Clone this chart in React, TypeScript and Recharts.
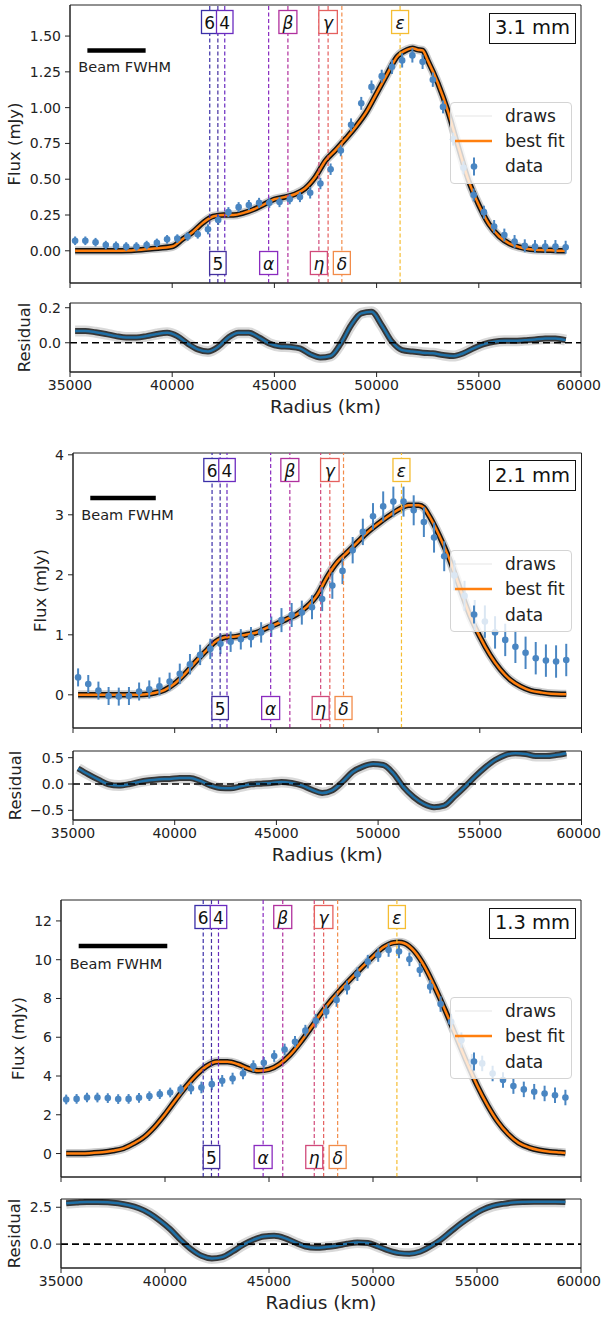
import React from 'react';
import {
  ComposedChart, Line, Scatter, ErrorBar, XAxis, YAxis,
  ReferenceLine, ReferenceArea, Legend,
} from 'recharts';

const FONT = '"DejaVu Sans", Verdana, sans-serif';
const BLUE = '#4a86c2';
const RES_BLUE = '#1f6fa5';
const ORANGE = '#ff7f0e';
const INK = '#222';

// ---------- shared categories ----------
const RADIUS_KM = [
  35250, 35750, 36250, 36750, 37250, 37750, 38250, 38750, 39250, 39750,
  40250, 40750, 41250, 41750, 42250, 42750, 43250, 43750, 44250, 44750,
  45250, 45750, 46250, 46750, 47250, 47750, 48250, 48750, 49250, 49750,
  50250, 50750, 51250, 51750, 52250, 52750, 53250, 53750, 54250, 54750,
  55250, 55750, 56250, 56750, 57250, 57750, 58250, 58750, 59250,
];
const X_TICKS = [35000, 40000, 45000, 50000, 55000, 60000];

const RING_NAMES = ['6', '5', '4', 'α', 'β', 'η', 'γ', 'δ', 'ε'];
const RING_KM = [41837, 42234, 42571, 44718, 45661, 47176, 47627, 48300, 51149];

// ---------- 3.1 mm ----------
const FLUX_31 = [
  0.07, 0.07, 0.06, 0.04, 0.035, 0.03, 0.03, 0.04, 0.055, 0.08,
  0.085, 0.10, 0.115, 0.15, 0.215, 0.27, 0.305, 0.32, 0.335, 0.335,
  0.34, 0.36, 0.375, 0.405, 0.47, 0.57, 0.70, 0.88, 1.03, 1.145,
  1.22, 1.285, 1.33, 1.365, 1.32, 1.195, 1.005, 0.78, 0.58, 0.39,
  0.27, 0.17, 0.11, 0.065, 0.035, 0.03, 0.03, 0.03, 0.025,
];
const ERR_31 = [
  0.03, 0.03, 0.03, 0.03, 0.03, 0.03, 0.03, 0.03, 0.03, 0.03,
  0.03, 0.03, 0.03, 0.035, 0.035, 0.035, 0.035, 0.035, 0.035, 0.035,
  0.035, 0.035, 0.035, 0.04, 0.04, 0.04, 0.04, 0.045, 0.045, 0.045,
  0.045, 0.05, 0.05, 0.05, 0.05, 0.05, 0.045, 0.045, 0.045, 0.045,
  0.045, 0.045, 0.045, 0.045, 0.045, 0.045, 0.045, 0.045, 0.045,
];
const FIT_X_31 = [
  35250, 36000, 37000, 38000, 39000, 40000, 40500, 41000, 41500, 42000,
  42500, 43000, 43500, 44000, 44500, 45000, 45500, 46000, 46500, 47000,
  47500, 48000, 48500, 49000, 49500, 50000, 50500, 51000, 51500, 51750,
  52000, 52250, 52500, 53000, 53500, 54000, 54500, 55000, 55500, 56000,
  56500, 57000, 57500, 58000, 58500, 59000, 59250,
];
const FIT_31 = [
  0, 0, 0, 0.002, 0.015, 0.03, 0.08, 0.13, 0.195, 0.24,
  0.25, 0.25, 0.265, 0.29, 0.325, 0.36, 0.375, 0.395, 0.435, 0.515,
  0.63, 0.705, 0.785, 0.87, 0.97, 1.10, 1.23, 1.355, 1.405, 1.415,
  1.405, 1.40, 1.33, 1.17, 0.97, 0.725, 0.49, 0.32, 0.185, 0.10,
  0.05, 0.025, 0.01, 0.005, 0.003, 0, 0,
];
const RES_31 = [
  0.067, 0.067, 0.06, 0.05, 0.038, 0.03, 0.03, 0.038, 0.05, 0.057,
  0.038, -0.004, -0.038, -0.05, -0.023, 0.03, 0.057, 0.057, 0.03, -0.004,
  -0.02, -0.023, -0.032, -0.065, -0.084, -0.076, -0.004, 0.10, 0.168, 0.177,
  0.10, 0.006, -0.042, -0.05, -0.057, -0.06, -0.07, -0.076, -0.06, -0.032,
  -0.008, 0.006, 0.011, 0.011, 0.015, 0.019, 0.025, 0.025, 0.015,
];

// ---------- 2.1 mm ----------
const FLUX_21 = [
  0.29, 0.18, 0.07, -0.02, -0.03, -0.02, 0.055, 0.09, 0.14, 0.22,
  0.35, 0.51, 0.665, 0.765, 0.85, 0.885, 0.925, 0.96, 1.04, 1.135,
  1.245, 1.33, 1.37, 1.46, 1.595, 1.82, 2.065, 2.41, 2.715, 2.975,
  3.14, 3.22, 3.22, 3.075, 2.88, 2.62, 2.31, 1.99, 1.65, 1.33,
  1.22, 1.04, 0.915, 0.80, 0.70, 0.61, 0.57, 0.555, 0.58,
];
const ERR_21 = [
  0.15, 0.15, 0.15, 0.15, 0.15, 0.15, 0.15, 0.15, 0.15, 0.15,
  0.17, 0.17, 0.17, 0.17, 0.17, 0.17, 0.17, 0.17, 0.17, 0.17,
  0.2, 0.2, 0.2, 0.2, 0.2, 0.22, 0.22, 0.22, 0.22, 0.22,
  0.25, 0.25, 0.25, 0.25, 0.25, 0.25, 0.25, 0.25, 0.25, 0.25,
  0.27, 0.27, 0.27, 0.27, 0.27, 0.27, 0.27, 0.27, 0.27,
];
const FIT_X_21 = [
  35250, 36000, 37000, 38000, 38500, 39000, 39500, 40000, 40500, 41000,
  41500, 42000, 42500, 43000, 43500, 44000, 44500, 45000, 45500, 46000,
  46500, 47000, 47500, 48000, 48500, 49000, 49500, 50000, 50500, 51000,
  51500, 52000, 52250, 52500, 53000, 53500, 54000, 54500, 55000, 55500,
  56000, 56500, 57000, 57500, 58000, 58500, 59000, 59250,
];
const FIT_21 = [
  0, 0, 0, 0, 0.005, 0.03, 0.08, 0.19, 0.35, 0.54,
  0.72, 0.885, 0.96, 0.97, 1.0, 1.035, 1.11, 1.18, 1.26, 1.34,
  1.47, 1.66, 1.97, 2.215, 2.38, 2.55, 2.715, 2.85, 2.975, 3.085,
  3.16, 3.16, 3.12, 2.99, 2.66, 2.27, 1.80, 1.33, 0.97, 0.665,
  0.425, 0.25, 0.14, 0.07, 0.04, 0.017, 0.01, 0.01,
];
const RES_21 = [
  0.295, 0.185, 0.083, -0.006, -0.03, -0.006, 0.04, 0.07, 0.09, 0.096,
  0.115, 0.115, 0.058, -0.026, -0.077, -0.083, -0.045, -0.006, 0.006, 0.02,
  0.04, 0.02, -0.026, -0.11, -0.17, -0.12, 0.04, 0.23, 0.33, 0.38,
  0.36, 0.2, -0.06, -0.25, -0.38, -0.44, -0.41, -0.24, -0.06, 0.135,
  0.31, 0.455, 0.55, 0.585, 0.57, 0.53, 0.53, 0.55, 0.585,
];

// ---------- 1.3 mm ----------
const FLUX_13 = [
  2.79, 2.82, 2.89, 2.89, 2.86, 2.81, 2.82, 2.875, 2.96, 3.065,
  3.15, 3.31, 3.36, 3.41, 3.58, 3.75, 3.87, 4.13, 4.51, 4.68,
  5.03, 5.37, 5.77, 6.34, 6.85, 7.32, 7.92, 8.56, 9.25, 9.9,
  10.24, 10.5, 10.42, 10.02, 9.47, 8.61, 7.71, 6.8, 5.85, 4.73,
  4.65, 4.13, 3.79, 3.48, 3.31, 3.19, 3.1, 3.01, 2.89,
];
const ERR_13 = [
  0.25, 0.25, 0.25, 0.25, 0.25, 0.25, 0.25, 0.25, 0.25, 0.25,
  0.25, 0.25, 0.3, 0.3, 0.3, 0.3, 0.3, 0.3, 0.3, 0.3,
  0.3, 0.3, 0.3, 0.3, 0.35, 0.35, 0.35, 0.35, 0.35, 0.35,
  0.35, 0.35, 0.35, 0.35, 0.35, 0.35, 0.4, 0.4, 0.4, 0.4,
  0.4, 0.4, 0.4, 0.4, 0.4, 0.4, 0.4, 0.4, 0.4,
];
const FIT_X_13 = [
  35250, 36000, 36500, 37000, 37500, 38000, 38500, 39000, 39500, 40000,
  40500, 41000, 41500, 42000, 42500, 43000, 43500, 44000, 44500, 45000,
  45500, 46000, 46500, 47000, 47500, 48000, 48500, 49000, 49500, 50000,
  50500, 51000, 51250, 51500, 52000, 52500, 53000, 53500, 54000, 54500,
  55000, 55500, 56000, 56500, 57000, 57500, 58000, 58500, 59000, 59250,
];
const FIT_13 = [
  0, 0, 0.03, 0.07, 0.14, 0.26, 0.52, 0.86, 1.38, 2.03,
  2.75, 3.44, 4.05, 4.51, 4.73, 4.73, 4.61, 4.39, 4.27, 4.34,
  4.61, 5.08, 5.72, 6.46, 7.23, 7.92, 8.52, 9.09, 9.64, 10.16,
  10.64, 10.88, 10.9, 10.85, 10.42, 9.61, 8.52, 7.32, 6.03, 4.73,
  3.53, 2.5, 1.64, 1.0, 0.55, 0.31, 0.17, 0.09, 0.05, 0.03,
];
const RES_13 = [
  2.77, 2.82, 2.86, 2.86, 2.84, 2.77, 2.64, 2.43, 2.09, 1.6,
  1.01, 0.29, -0.34, -0.79, -0.97, -0.88, -0.5, -0.05, 0.29, 0.52,
  0.56, 0.41, 0.11, -0.16, -0.25, -0.2, -0.11, 0.02, 0.11, 0.07,
  -0.16, -0.43, -0.61, -0.65, -0.52, -0.16, 0.29, 0.86, 1.42, 1.91,
  2.32, 2.59, 2.73, 2.82, 2.86, 2.88, 2.88, 2.88, 2.86,
];

// ---------- styling (not data) ----------
const RING_STYLE: Record<string, { color: string; where: 'top' | 'bottom'; w: number; italic: boolean }> = {
  '6': { color: '#3b2fa8', where: 'top', w: 16.5, italic: false },
  '5': { color: '#44309f', where: 'bottom', w: 16.5, italic: false },
  '4': { color: '#6a2bc0', where: 'top', w: 16.5, italic: false },
  'α': { color: '#8a2bbf', where: 'bottom', w: 18, italic: true },
  'β': { color: '#b0309e', where: 'top', w: 18, italic: true },
  'η': { color: '#d14a7a', where: 'bottom', w: 17, italic: true },
  'γ': { color: '#e5605e', where: 'top', w: 18.5, italic: true },
  'δ': { color: '#f28c4a', where: 'bottom', w: 17, italic: true },
  'ε': { color: '#f5bd32', where: 'top', w: 17, italic: true },
};

const fmt2 = (v: number) => v.toFixed(2);
const fmt0 = (v: number) => String(v);
const fmt1 = (v: number) => (v < 0 ? '\u2212' + Math.abs(v).toFixed(1) : v.toFixed(1));

type Panel = {
  tag: string;
  flux: number[]; err: number[]; fitX: number[]; fit: number[]; res: number[];
  plotLeft: number; plotRight: number;
  main: { top: number; plotTop: number; plotBottom: number; domain: [number, number]; ticks: number[]; fmt: (v: number) => string; labelX: number };
  resid: { top: number; plotTop: number; plotBottom: number; domain: [number, number]; ticks: number[]; fmt: (v: number) => string; labelX: number };
  beam: { x1: number; x2: number; y: number; gap: number };
  badgeTop: number;
  legendTop: number;
};

const PANELS: Panel[] = [
  {
    tag: '3.1 mm', flux: FLUX_31, err: ERR_31, fitX: FIT_X_31, fit: FIT_31, res: RES_31,
    plotLeft: 70, plotRight: 581,
    main: { top: 0, plotTop: 5, plotBottom: 283, domain: [-0.225, 1.717], ticks: [0, 0.25, 0.5, 0.75, 1, 1.25, 1.5], fmt: fmt2, labelX: 14 },
    resid: { top: 295, plotTop: 303, plotBottom: 372, domain: [-0.167, 0.227], ticks: [0, 0.2], fmt: fmt1, labelX: 24 },
    beam: { x1: 35850, x2: 38700, y: 1.40, gap: 17 },
    badgeTop: 12.5, legendTop: 101.7,
  },
  {
    tag: '2.1 mm', flux: FLUX_21, err: ERR_21, fitX: FIT_X_21, fit: FIT_21, res: RES_21,
    plotLeft: 73, plotRight: 581.5,
    main: { top: 440, plotTop: 453, plotBottom: 728, domain: [-0.553, 4.03], ticks: [0, 1, 2, 3, 4], fmt: fmt0, labelX: 40 },
    resid: { top: 740, plotTop: 751, plotBottom: 820, domain: [-0.684, 0.627], ticks: [-0.5, 0, 0.5], fmt: fmt1, labelX: 15 },
    beam: { x1: 35850, x2: 39070, y: 3.28, gap: 17 },
    badgeTop: 460, legendTop: 550,
  },
  {
    tag: '1.3 mm', flux: FLUX_13, err: ERR_13, fitX: FIT_X_13, fit: FIT_13, res: RES_13,
    plotLeft: 61, plotRight: 581,
    main: { top: 880, plotTop: 900, plotBottom: 1177, domain: [-1.21, 13.08], ticks: [0, 2, 4, 6, 8, 10, 12], fmt: fmt0, labelX: 18.5 },
    resid: { top: 1189, plotTop: 1199, plotBottom: 1268, domain: [-1.62, 3.06], ticks: [0, 2.5], fmt: fmt1, labelX: 14.6 },
    beam: { x1: 35850, x2: 40110, y: 10.71, gap: 18 },
    badgeTop: 907.7, legendTop: 997.3,
  },
];

const tickStyle = { fontFamily: FONT, fontSize: 14, fill: INK };

// x tick label kept inside the 602px page
function XTick(props: any) {
  const { x, y, payload } = props;
  const label = String(payload.value);
  const half = label.length * 0.636 * 14 / 2;
  const cx = Math.min(x, 601 - half);
  return (
    <text x={cx} y={y} dy="0.71em" textAnchor="middle" fontFamily={FONT} fontSize={14} fill={INK}>{label}</text>
  );
}

function ringLabel(name: string) {
  const s = RING_STYLE[name];
  return (props: any) => {
    const vb = props.viewBox || {};
    const x = vb.x;
    const cy = s.where === 'top' ? vb.y + 17 : vb.y + vb.height - 20;
    const h = 23;
    return (
      <g>
        <rect x={x - s.w / 2} y={cy - h / 2} width={s.w} height={h} fill="#fff" stroke={s.color} strokeWidth={1.3} />
        <text x={x} y={cy + 1} textAnchor="middle" dominantBaseline="central" fontFamily={FONT}
          fontSize={17} fontStyle={s.italic ? 'italic' : 'normal'} fill="#111">{name}</text>
      </g>
    );
  };
}

function LegendBox() {
  const rows = [14, 39, 64.5];
  return (
    <div style={{
      position: 'relative', width: 122, height: 82, boxSizing: 'border-box',
      background: 'rgba(255,255,255,0.8)', border: '1px solid #d4d4d4', borderRadius: 4,
      fontFamily: FONT, fontSize: 17, color: INK,
    }}>
      <svg width={122} height={82} style={{ position: 'absolute', left: -1, top: -1 }}>
        <line x1={5} x2={42} y1={rows[0]} y2={rows[0]} stroke="#000" strokeOpacity={0.07} strokeWidth={1.5} />
        <line x1={5} x2={42} y1={rows[1]} y2={rows[1]} stroke={ORANGE} strokeWidth={2.5} />
        <line x1={24} x2={24} y1={rows[2] - 9} y2={rows[2] + 9} stroke={BLUE} strokeWidth={2} />
        <circle cx={24} cy={rows[2]} r={3.3} fill={BLUE} />
      </svg>
      {['draws', 'best fit', 'data'].map((t, i) => (
        <div key={t} style={{ position: 'absolute', left: 54, top: rows[i] - 1, transform: 'translateY(-50%)', lineHeight: 1, whiteSpace: 'nowrap' }}>{t}</div>
      ))}
    </div>
  );
}

function MainChart({ p }: { p: Panel }) {
  const m = p.main;
  const xAxisH = 12;
  const height = m.plotBottom - m.top + xAxisH;
  const fitData = p.fitX.map((x, i) => ({ x, y: p.fit[i] }));
  const pts = RADIUS_KM.map((x, i) => ({ x, y: p.flux[i], err: p.err[i] }));
  const labelY = m.plotTop - m.top + (m.plotBottom - m.plotTop) / 2;
  return (
    <div style={{ position: 'absolute', left: 0, top: m.top }}>
      <ComposedChart width={602} height={height}
        margin={{ top: m.plotTop - m.top, right: 602 - p.plotRight, bottom: 0, left: 0 }}>
        <XAxis dataKey="x" type="number" domain={[35000, 60000]} allowDataOverflow ticks={X_TICKS}
          tickFormatter={() => ''} height={xAxisH} tickSize={5} stroke={INK} tick={tickStyle} />
        <YAxis type="number" domain={m.domain} allowDataOverflow ticks={m.ticks} tickFormatter={m.fmt}
          width={p.plotLeft} tickSize={5} tickMargin={4} stroke={INK} tick={tickStyle}
          label={() => (
            <text x={m.labelX} y={labelY} transform={`rotate(-90 ${m.labelX} ${labelY})`} textAnchor="middle"
              dominantBaseline="central" fontFamily={FONT} fontSize={16.5} fill={INK}>Flux (mJy)</text>
          )} />
        <ReferenceArea x1={35000} x2={60000} y1={m.domain[0]} y2={m.domain[1]} fill="none" stroke={INK} strokeWidth={1} ifOverflow="visible" />
        <Line data={fitData} dataKey="y" type="monotone" stroke="#000" strokeOpacity={0.2} strokeWidth={9} dot={false} activeDot={false} isAnimationActive={false} legendType="none" />
        <Line data={fitData} dataKey="y" type="monotone" stroke="#000" strokeOpacity={0.9} strokeWidth={5.5} dot={false} activeDot={false} isAnimationActive={false} legendType="none" />
        <Line data={fitData} dataKey="y" type="monotone" stroke={ORANGE} strokeWidth={2.5} dot={false} activeDot={false} isAnimationActive={false} legendType="none" />
        <Scatter data={pts} dataKey="y" isAnimationActive={false} legendType="none"
          shape={(sp: any) => <circle cx={sp.cx} cy={sp.cy} r={3.3} fill={BLUE} />}>
          <ErrorBar dataKey="err" direction="y" width={0} stroke={BLUE} strokeWidth={2} isAnimationActive={false} />
        </Scatter>
        {RING_NAMES.map((n, i) => (
          <ReferenceLine key={'l' + n} x={RING_KM[i]} stroke={RING_STYLE[n].color} strokeWidth={1.2} strokeDasharray="4 2.5" />
        ))}
        {RING_NAMES.map((n, i) => (
          <ReferenceLine key={'b' + n} x={RING_KM[i]} stroke="none" label={ringLabel(n)} />
        ))}
        <ReferenceLine segment={[{ x: p.beam.x1, y: p.beam.y }, { x: p.beam.x2, y: p.beam.y }]} stroke="#000" strokeWidth={4.5}
          label={(lp: any) => {
            const vb = lp.viewBox || {};
            return (
              <text x={vb.x - 9} y={vb.y + p.beam.gap} dominantBaseline="central" fontFamily={FONT} fontSize={14.5} fill={INK}>Beam FWHM</text>
            );
          }} />
        <Legend layout="vertical" align="center" verticalAlign="middle" content={() => <LegendBox />}
          wrapperStyle={{ left: 450, top: p.legendTop - m.top, width: 122, height: 82, margin: 0 }} />
      </ComposedChart>
    </div>
  );
}

function ResidChart({ p }: { p: Panel }) {
  const r = p.resid;
  const xAxisH = 45;
  const height = r.plotBottom - r.top + xAxisH;
  const resData = RADIUS_KM.map((x, i) => ({ x, y: p.res[i] }));
  const labelY = r.plotTop - r.top + (r.plotBottom - r.plotTop) / 2;
  const xLabelX = (p.plotLeft + p.plotRight) / 2;
  const xLabelY = r.plotBottom - r.top + 34;
  return (
    <div style={{ position: 'absolute', left: 0, top: r.top }}>
      <ComposedChart width={602} height={height}
        margin={{ top: r.plotTop - r.top, right: 602 - p.plotRight, bottom: 0, left: 0 }}>
        <XAxis dataKey="x" type="number" domain={[35000, 60000]} allowDataOverflow ticks={X_TICKS}
          height={xAxisH} tickSize={5} tickMargin={3} stroke={INK} tick={<XTick />}
          label={() => (
            <text x={xLabelX} y={xLabelY} textAnchor="middle" dominantBaseline="central" fontFamily={FONT} fontSize={18.5} fill={INK}>Radius (km)</text>
          )} />
        <YAxis type="number" domain={r.domain} allowDataOverflow ticks={r.ticks} tickFormatter={r.fmt}
          width={p.plotLeft} tickSize={5} tickMargin={4} stroke={INK} tick={tickStyle}
          label={() => (
            <text x={r.labelX} y={labelY} transform={`rotate(-90 ${r.labelX} ${labelY})`} textAnchor="middle"
              dominantBaseline="central" fontFamily={FONT} fontSize={16.5} fill={INK}>Residual</text>
          )} />
        <ReferenceArea x1={35000} x2={60000} y1={r.domain[0]} y2={r.domain[1]} fill="none" stroke={INK} strokeWidth={1} ifOverflow="visible" />
        <Line data={resData} dataKey="y" type="monotone" stroke="#000" strokeOpacity={0.15} strokeWidth={11} dot={false} activeDot={false} isAnimationActive={false} legendType="none" />
        <Line data={resData} dataKey="y" type="monotone" stroke="#000" strokeOpacity={0.75} strokeWidth={6} dot={false} activeDot={false} isAnimationActive={false} legendType="none" />
        <Line data={resData} dataKey="y" type="monotone" stroke={RES_BLUE} strokeWidth={2.5} dot={false} activeDot={false} isAnimationActive={false} legendType="none" />
        <ReferenceLine y={0} stroke="#000" strokeWidth={1.6} strokeDasharray="7 4" />
      </ComposedChart>
    </div>
  );
}

function Badge({ p }: { p: Panel }) {
  return (
    <div style={{
      position: 'absolute', left: 489, top: p.badgeTop, width: 87, height: 31, boxSizing: 'border-box',
      border: '1.3px solid #111', background: '#fff', fontFamily: FONT, fontSize: 19.5, color: '#111',
      display: 'flex', alignItems: 'center', justifyContent: 'center', lineHeight: 1,
    }}>{p.tag}</div>
  );
}

export default function App() {
  return (
    <div style={{ position: 'absolute', left: 0, top: 0, width: 602, height: 1317, background: '#fff', fontFamily: FONT, overflow: 'hidden' }}>
      {PANELS.map((p) => (
        <React.Fragment key={p.tag}>
          <MainChart p={p} />
          <ResidChart p={p} />
          <Badge p={p} />
        </React.Fragment>
      ))}
    </div>
  );
}
